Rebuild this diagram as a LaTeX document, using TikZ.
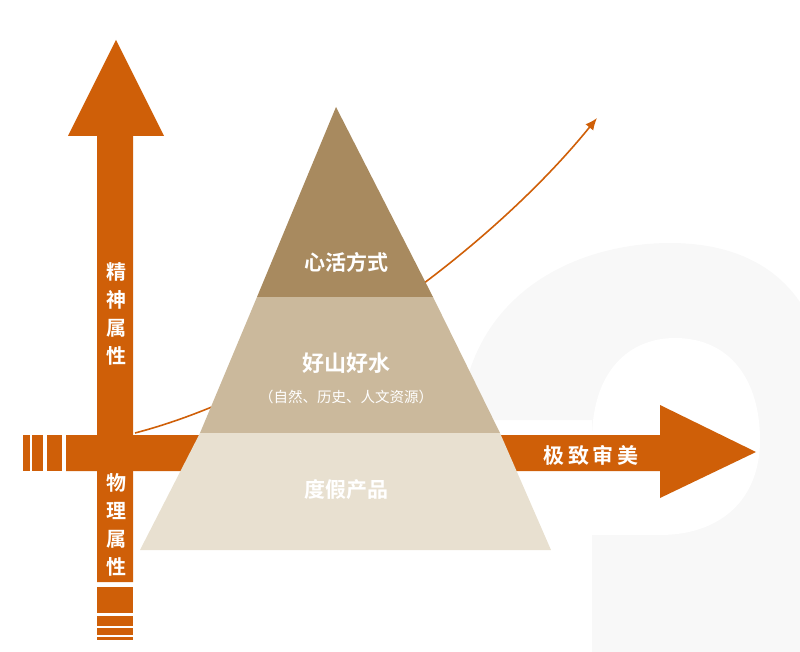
\documentclass[tikz,border=0pt]{standalone}
\usepackage{fontspec}
\usetikzlibrary{arrows.meta}
\newfontfamily\cjk{Noto Sans CJK SC}[BoldFont={Noto Sans CJK SC Bold}]
\definecolor{org}{HTML}{CF5F08}
\definecolor{p1}{HTML}{A88A5F}
\definecolor{p2}{HTML}{CBB99C}
\definecolor{p3}{HTML}{E8E0D0}
\definecolor{bgp}{HTML}{F8F8F8}
\tikzset{lbl/.style={text=white,font=\cjk\bfseries,inner sep=0pt},
 vlbl/.style={lbl,font=\cjk\bfseries\fontsize{20}{28}\selectfont,align=center}}
\begin{document}
\begin{tikzpicture}[x=1pt,y=-1pt]
\useasboundingbox (0,0) rectangle (800,652);
% faint background shape
\begin{scope}
\clip (0,0) rectangle (800,652);
\fill[bgp] (460,420) .. controls (470,290) and (580,243) .. (670,243) .. controls (760,243) and (830,290) .. (830,420) -- (830,652) -- (592,652) -- (592,420) -- cycle;
\fill[white] (592,440) .. controls (592,370) and (630,338) .. (675,338) .. controls (730,338) and (760,380) .. (760,440) .. controls (760,500) and (720,535) .. (660,535) -- (592,535) -- cycle;
\end{scope}
% vertical arrow
\fill[org] (97,582) -- (97,136) -- (68,136) -- (116,40) -- (164,136) -- (133,136) -- (133,582) -- cycle;
\foreach \a/\b in {587/613,616/626,628/635,637/640} \fill[org] (97,\a) rectangle (133,\b);
% horizontal arrow
\fill[org] (66,435) -- (660,435) -- (660,405) -- (756,452) -- (660,498) -- (660,471) -- (66,471) -- cycle;
\foreach \a/\b in {23/30,32/43,47/62} \fill[org] (\a,435) rectangle (\b,471);
% curve
\coordinate (cs) at (135,433);
\coordinate (ce) at (597,118);
\draw[org,line width=1.6pt,-{Latex[length=12pt,width=10pt]}] (cs) .. controls (300,390) and (490,250) .. (ce);
% pyramid
\fill[p1] (336,107) -- (433,297) -- (257,297) -- cycle;
\fill[p2] (257,297) -- (433,297) -- (500,433) -- (200,433) -- cycle;
\fill[p3] (200,433) -- (500,433) -- (551,550) -- (140,550) -- cycle;
\node[lbl,font=\cjk\bfseries\fontsize{21}{24}\selectfont] (t1) at (346,262) {心活方式};
\node[lbl,font=\cjk\bfseries\fontsize{22}{24}\selectfont] (t2) at (346,363) {好山好水};
\node[lbl,font=\cjk\fontsize{14.5}{16}\selectfont] (t3) at (346,397) {（自然、历史、人文资源）};
\node[lbl,font=\cjk\bfseries\fontsize{21}{24}\selectfont] (t4) at (346,490) {度假产品};
\node[lbl,font=\cjk\bfseries\fontsize{21}{24}\selectfont] (t5) at (591,455) {极\,致\,审\,美};
\node[vlbl] (v1) at (116,314) {精\\神\\属\\性};
\node[vlbl] (v2) at (116,525) {物\\理\\属\\性};
\end{tikzpicture}
\end{document}
